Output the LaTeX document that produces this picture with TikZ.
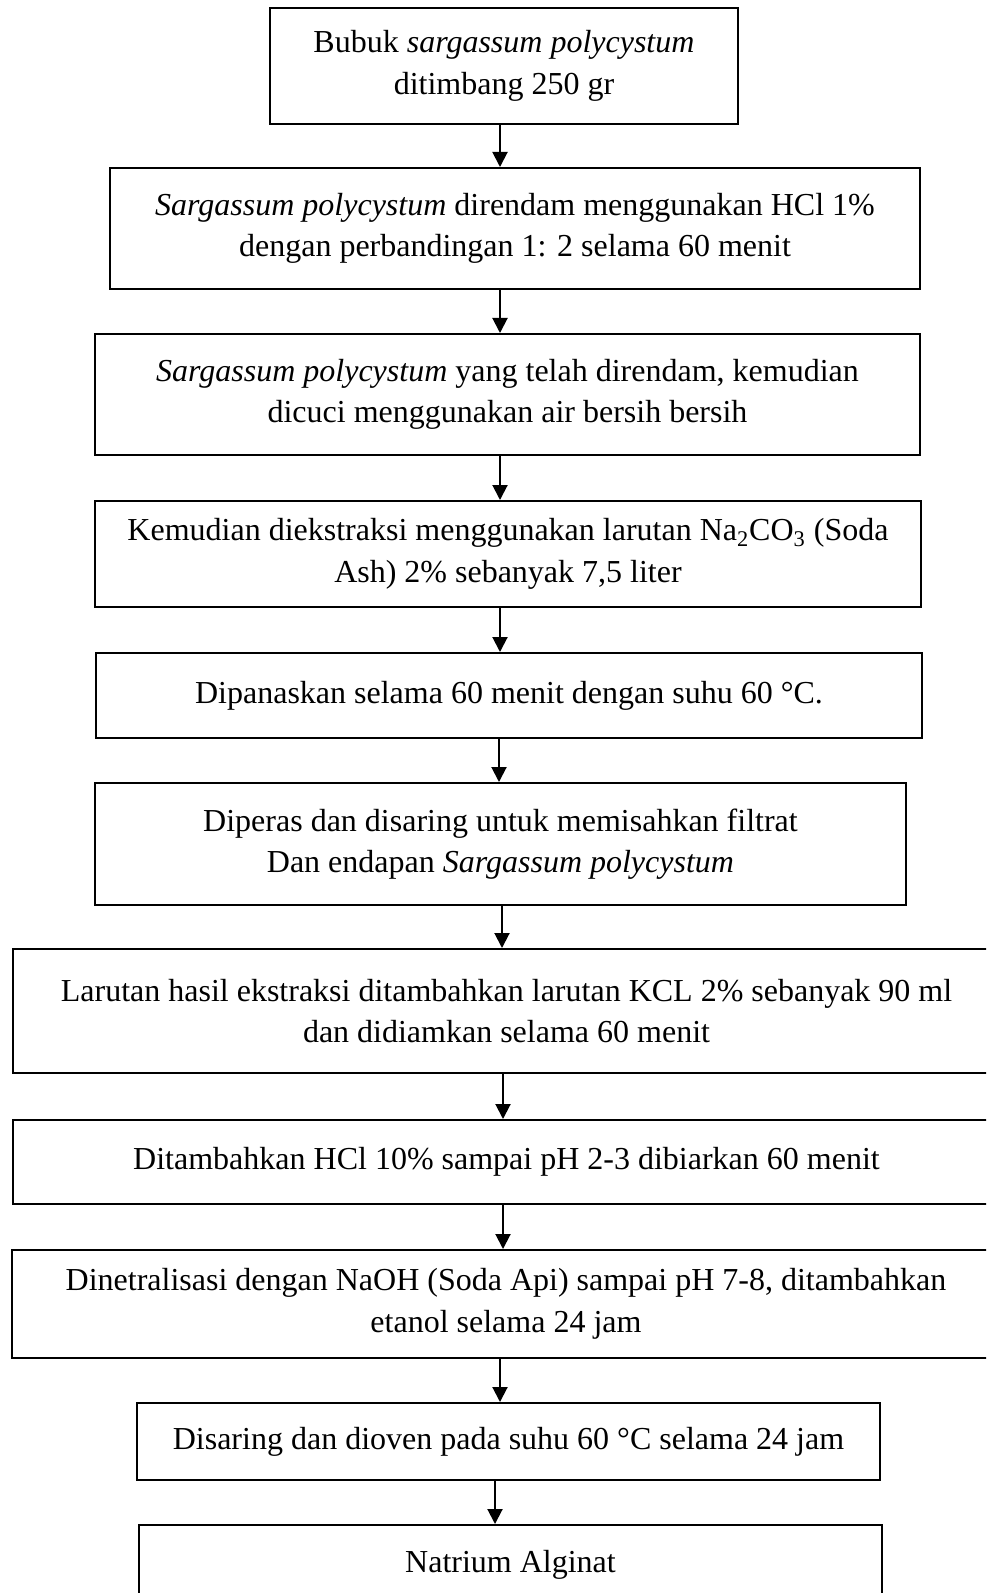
\documentclass[tikz,border=0pt]{standalone}
\usepackage{fontspec}
\setmainfont{Liberation Serif}
\usetikzlibrary{arrows.meta}

\begin{document}
\begin{tikzpicture}
[
x=0.5pt, y=-0.5pt,
stepbox/.style={draw, line width=1pt, align=center, inner sep=0pt,
  font=\fontsize{16}{20.8}\selectfont},
flow/.style={line width=1pt, -{Triangle[length=7.5pt,width=7.5pt]}}
]
\clip (0,0) rectangle (986,1593);
% langkah-langkah
\node[stepbox, minimum width=234pt, minimum height=58pt] (bubuk) at (504,66)
  {Bubuk \textit{sargassum polycystum}\\ditimbang 250 gr};
\node[stepbox, minimum width=405pt, minimum height=60.5pt] (rendam) at (515,228.5)
  {\textit{Sargassum polycystum} direndam menggunakan HCl 1\%\\dengan perbandingan 1: 2 selama 60 menit};
\node[stepbox, minimum width=412.5pt, minimum height=60.5pt] (cuci) at (507.5,394.5)
  {\textit{Sargassum polycystum} yang telah direndam, kemudian\\dicuci menggunakan air bersih bersih};
\node[stepbox, minimum width=413pt, minimum height=53pt] (ekstrak) at (508,554)
  {Kemudian diekstraksi menggunakan larutan Na\textsubscript{2}CO\textsubscript{3} (Soda\\Ash) 2\% sebanyak 7,5 liter};
\node[stepbox, minimum width=413pt, minimum height=42.5pt] (panas) at (509,695.5)
  {Dipanaskan selama 60 menit dengan suhu 60 °C.};
\node[stepbox, minimum width=405.5pt, minimum height=61pt] (peras) at (500.5,844)
  {Diperas dan disaring untuk memisahkan filtrat\\Dan endapan \textit{Sargassum polycystum}};
\node[stepbox, minimum width=493.5pt, minimum height=62pt] (kcl) at (506.5,1011)
  {Larutan hasil ekstraksi ditambahkan larutan KCL 2\% sebanyak 90 ml\\dan didiamkan selama 60 menit};
\node[stepbox, minimum width=493.5pt, minimum height=42pt] (asam) at (506.5,1162)
  {Ditambahkan HCl 10\% sampai pH 2-3 dibiarkan 60 menit};
\node[stepbox, minimum width=494pt, minimum height=54pt] (netral) at (506,1304)
  {Dinetralisasi dengan NaOH (Soda Api) sampai pH 7-8, ditambahkan\\etanol selama 24 jam};
\node[stepbox, minimum width=371.5pt, minimum height=38.5pt] (oven) at (508.5,1441.5)
  {Disaring dan dioven pada suhu 60 °C selama 24 jam};
\node[stepbox, minimum width=371.5pt, minimum height=40pt] (hasil) at (510.5,1565)
  {Natrium Alginat};
% panah
\draw[flow] ([xshift=-2pt]bubuk.south) -- ([xshift=-2pt]bubuk.south |- rendam.north);
\draw[flow] ([xshift=-7.5pt]rendam.south) -- ([xshift=-7.5pt]rendam.south |- cuci.north);
\draw[flow] ([xshift=-3.75pt]cuci.south) -- ([xshift=-3.75pt]cuci.south |- ekstrak.north);
\draw[flow] ([xshift=-4pt]ekstrak.south) -- ([xshift=-4pt]ekstrak.south |- panas.north);
\draw[flow] ([xshift=-5pt]panas.south) -- ([xshift=-5pt]panas.south |- peras.north);
\draw[flow] ([xshift=0.75pt]peras.south) -- ([xshift=0.75pt]peras.south |- kcl.north);
\draw[flow] ([xshift=-1.75pt]kcl.south) -- ([xshift=-1.75pt]kcl.south |- asam.north);
\draw[flow] ([xshift=-1.75pt]asam.south) -- ([xshift=-1.75pt]asam.south |- netral.north);
\draw[flow] ([xshift=-3pt]netral.south) -- ([xshift=-3pt]netral.south |- oven.north);
\draw[flow] ([xshift=-6.75pt]oven.south) -- ([xshift=-6.75pt]oven.south |- hasil.north);
\end{tikzpicture}
\end{document}
